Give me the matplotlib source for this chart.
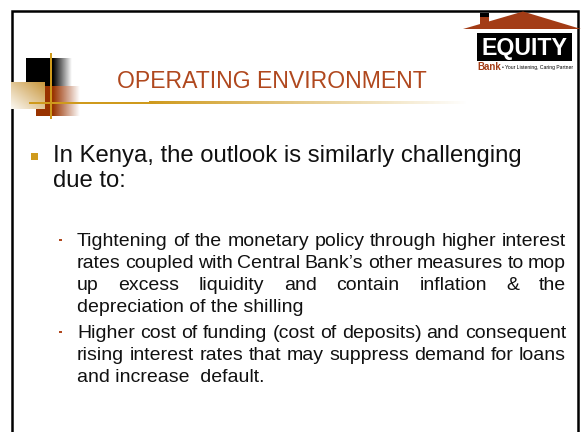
import matplotlib
matplotlib.use('Agg')
import matplotlib.pyplot as plt
import numpy as np
from matplotlib.patches import Rectangle, Polygon
from matplotlib.colors import to_rgb

# ---- content ----
title = "OPERATING ENVIRONMENT"
main_bullet_lines = ["In Kenya, the outlook is similarly challenging", "due to:"]
sub_bullets = [
    ["Tightening of the monetary policy through higher interest",
     "rates coupled with Central Bank\u2019s other measures to mop",
     "up excess liquidity and contain inflation & the",
     "depreciation of the shilling"],
    ["Higher cost of funding (cost of deposits) and consequent",
     "rising interest rates that may suppress demand for loans",
     "and increase  default."],
]
logo_name = "EQUITY"
logo_bank = "Bank"
logo_tag = "\u2022 Your Listening, Caring Partner"

W, H = 581, 432
fig = plt.figure(figsize=(5.81, 4.32), dpi=100)
ax = fig.add_axes([0, 0, 1, 1])
ax.set_xlim(0, W)
ax.set_ylim(H, 0)
ax.axis('off')
renderer = fig.canvas.get_renderer()

FONT = 'Liberation Sans'
TITLE_C = '#b0481e'
GOLD = '#cf9a1c'
RED = '#993300'
ROOF = '#a33c16'

def tw(s, size, family=FONT, weight='normal'):
    t = ax.text(0, 0, s, fontsize=size, family=family, weight=weight)
    w = t.get_window_extent(renderer).width
    t.remove()
    return w

def fit(s, target, family=FONT, weight='normal'):
    return 20 * target / tw(s, 20, family, weight)

def grad_img(x0, x1, y0, y1, color, a0, a1, z):
    n = 64
    rgb = np.array(to_rgb(color))
    img = np.zeros((1, n, 4))
    img[..., :3] = rgb
    img[..., 3] = np.linspace(a0, a1, n)
    ax.imshow(img, extent=(x0, x1, y1, y0), aspect='auto', zorder=z, interpolation='bilinear')

# ---- frame ----
ax.plot([12, 12, 578, 578], [432, 11, 11, 432], color='black', lw=1.8, solid_joinstyle='miter', zorder=1)

# ---- decorative squares ----
ax.add_patch(Rectangle((26, 58), 27, 28, color='black', lw=0, zorder=2))
grad_img(53, 72, 58, 86, 'black', 1, 0, 2)
ax.add_patch(Rectangle((36, 86), 17, 30, color=RED, lw=0, zorder=2))
grad_img(53, 80, 86, 116, RED, 1, 0, 2)
# tan square with diagonal gradient
n = 64
yy, xx = np.mgrid[0:n, 0:n] / (n - 1)
t = np.clip((xx + (1 - yy)) / 2, 0, 1)
c1 = np.array(to_rgb('#c8963c'))
c0 = np.array(to_rgb('#fbf8f2'))
img = c0[None, None, :] * (1 - t[..., None]) + c1[None, None, :] * t[..., None]
ax.imshow(img, extent=(11, 45, 109, 82), aspect='auto', zorder=3, interpolation='bilinear')
# gold lines
ax.add_patch(Rectangle((50, 53), 2, 66, color=GOLD, lw=0, zorder=4))
ax.add_patch(Rectangle((29, 102), 120, 2.2, color=GOLD, lw=0, zorder=4))
grad_img(149, 470, 102, 104.2, GOLD, 1, 0, 4)

# ---- title ----
ts = fit(title, 310)
ax.text(117, 88, title, fontsize=ts, family=FONT, color=TITLE_C, ha='left', va='baseline', zorder=5)

# ---- logo ----
ax.add_patch(Polygon([(463, 29), (523, 11.5), (581, 29)], closed=True, color=ROOF, lw=0, zorder=5))
ax.add_patch(Rectangle((480, 16), 9, 10, color=ROOF, lw=0, zorder=5))
ax.add_patch(Rectangle((480, 13), 9, 3.5, color='black', lw=0, zorder=6))
ax.add_patch(Rectangle((477, 33), 95, 28, color='black', lw=0, zorder=5))
es = fit(logo_name, 86, weight='bold')
ax.text(524.5, 55.5, logo_name, fontsize=es, family=FONT, weight='bold', color='white',
        ha='center', va='baseline', zorder=6)
ax.text(477, 70, logo_bank, fontsize=7, family=FONT, weight='bold', color=ROOF, ha='left', va='baseline', zorder=6)
bw = tw(logo_bank, 7, weight='bold')
ax.text(477 + bw + 1.5, 69.5, logo_tag, fontsize=fit(logo_tag, 572 - (478.5 + bw)), family=FONT,
        color='black', ha='left', va='baseline', zorder=6)

# ---- main bullet ----
ax.add_patch(Rectangle((31, 153), 7, 7, color=GOLD, lw=0, zorder=5))
ms = fit(main_bullet_lines[0], 467)
ax.text(53, 162, main_bullet_lines[0], fontsize=ms, family=FONT, color='#111111', va='baseline', zorder=5)
ax.text(53, 187, main_bullet_lines[1], fontsize=ms, family=FONT, color='#111111', va='baseline', zorder=5)

# ---- sub bullets (justified) ----
X0, X1 = 77, 566
ss = fit(sub_bullets[0][0], 486)

def justified(line, y, last):
    if last:
        ax.text(X0, y, line, fontsize=ss, family=FONT, color='#111111', va='baseline', zorder=5)
        return
    words = line.split()
    ws = [tw(w, ss) for w in words]
    gap = (X1 - X0 - sum(ws)) / (len(words) - 1)
    x = X0
    for w, wd in zip(words, ws):
        ax.text(x, y, w, fontsize=ss, family=FONT, color='#111111', va='baseline', zorder=5)
        x += wd + gap

baselines = [[246, 268, 290, 312], [338, 360, 382]]
for para, bls in zip(sub_bullets, baselines):
    ax.add_patch(Rectangle((59, bls[0] - 7.5), 2.6, 2.6, color=TITLE_C, lw=0, zorder=5))
    for i, (line, y) in enumerate(zip(para, bls)):
        justified(line, y, i == len(para) - 1)

fig.savefig('out.png', dpi=100)
